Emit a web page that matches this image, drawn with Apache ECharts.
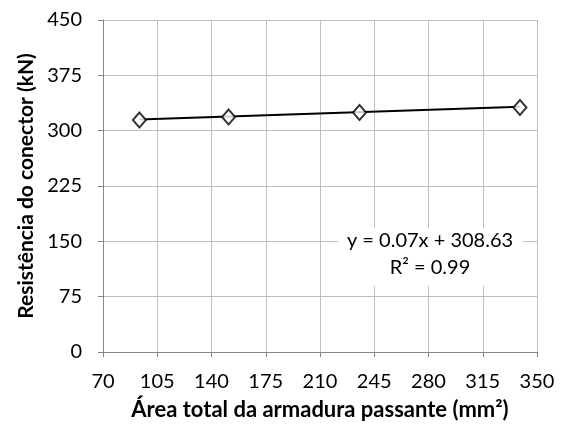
<!DOCTYPE html>
<html><head><meta charset="utf-8">
<script src="https://cdn.jsdelivr.net/npm/echarts@6/dist/echarts.min.js"></script>
<style>html,body{margin:0;padding:0;background:#fff}#c{width:565px;height:430px}</style>
</head><body><div id="c"></div>
<script>
const areaX = [93.5, 151, 235.5, 339];
const resistY = [314.5, 318.5, 324.5, 331.5];
const slope = 0.07, intercept = 308.63;
const eqText = 'y = 0.07x + 308.63';
const r2Text = 'R² = 0.99';
const xTitle = 'Área total da armadura passante (mm²)';
const yTitle = 'Resistência do conector (kN)';

const pts = areaX.map((x, i) => [x, resistY[i]]);
const xMin = Math.min(...areaX), xMax = Math.max(...areaX);
const trend = [[xMin, slope * xMin + intercept], [xMax, slope * xMax + intercept]];

const font = 'Lato';
const chart = echarts.init(document.getElementById('c'));
chart.setOption({
  animation: false,
  grid: {left: 103, right: 28, top: 20, bottom: 78, outerBoundsMode: 'none', containLabel: false},
  xAxis: {
    type: 'value', min: 70, max: 350, interval: 35,
    name: xTitle, nameLocation: 'middle', nameGap: 47,
    nameTextStyle: {fontFamily: font, fontWeight: 'bold', fontSize: 22, color: '#000'},
    axisLine: {show: true, lineStyle: {color: '#868686'}},
    axisTick: {show: true, length: 5, lineStyle: {color: '#868686'}},
    axisLabel: {fontFamily: font, fontSize: 20, color: '#000', margin: 20},
    splitLine: {show: true, lineStyle: {color: '#bfbfbf'}}
  },
  yAxis: {
    type: 'value', min: 0, max: 450, interval: 75,
    name: yTitle, nameLocation: 'middle', nameGap: 58, nameRotate: 90,
    nameTextStyle: {fontFamily: font, fontWeight: 'bold', fontSize: 21, color: '#000'},
    axisLine: {show: true, lineStyle: {color: '#868686'}},
    axisTick: {show: true, length: 5, lineStyle: {color: '#868686'}},
    axisLabel: {fontFamily: font, fontSize: 20, color: '#000', margin: 21},
    splitLine: {show: true, lineStyle: {color: '#bfbfbf'}}
  },
  graphic: [{
    type: 'rect', x: 338, y: 228, z: 10,
    shape: {width: 185, height: 58}, style: {fill: '#fff'}
  }, {
    type: 'text', x: 430, y: 241, z: 11,
    style: {text: eqText, fontFamily: font, fontSize: 20, fill: '#000', align: 'center', verticalAlign: 'middle'}
  }, {
    type: 'text', x: 430, y: 268, z: 11,
    style: {text: r2Text, fontFamily: font, fontSize: 20, fill: '#000', align: 'center', verticalAlign: 'middle'}
  }],
  series: [{
    type: 'line', data: trend, symbol: 'none', silent: true, z: 2,
    lineStyle: {color: '#000', width: 2}
  }, {
    type: 'scatter', data: pts, symbol: 'diamond', symbolSize: [13, 15], z: 3,
    itemStyle: {color: '#fff', borderColor: '#000', borderWidth: 2}
  }]
});
</script></body></html>
